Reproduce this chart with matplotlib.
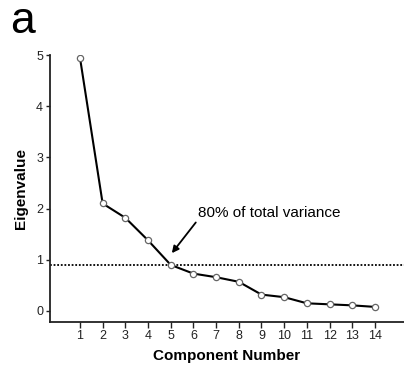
import matplotlib
matplotlib.use("Agg")
import matplotlib.pyplot as plt

plt.rcParams['font.family'] = ['Liberation Sans', 'DejaVu Sans']

components = list(range(1, 15))
eigenvalues = [4.95, 2.1, 1.82, 1.38, 0.9, 0.73, 0.66, 0.57, 0.32, 0.27, 0.15, 0.13, 0.11, 0.08]
cutoff = 0.9
note = "80% of total variance"

fig = plt.figure(figsize=(4.04, 3.72), dpi=100)
ax = fig.add_axes([50 / 404, 50 / 372, 354 / 404, 267 / 372])

ax.plot(components, eigenvalues, color='black', lw=1.5, zorder=2)
ax.plot(components, eigenvalues, 'o', ms=4.5, mfc='white', mec='#666666', mew=0.9, zorder=3)
ax.axhline(cutoff, color='black', lw=1.3, ls=(0, (1, 1)), zorder=1)

ax.annotate(note, xy=(5.05, 1.13), xytext=(6.2, 1.92), fontsize=11, va='center', ha='left',
            arrowprops=dict(arrowstyle='-|>', color='black', lw=1.3, mutation_scale=10,
                            shrinkA=0, shrinkB=0, relpos=(0, 0)))

ax.set_xlim(-0.32, 15.28)
ax.set_ylim(-0.215, 5.0)
ax.set_xticks(components)
ax.set_yticks([0, 1, 2, 3, 4, 5])
ax.tick_params(axis='both', labelsize=9, colors='#222222', length=3, width=1, pad=2)
ax.tick_params(axis='x', length=4)

for side in ['top', 'right']:
    ax.spines[side].set_visible(False)
for side in ['left', 'bottom']:
    ax.spines[side].set_linewidth(1.3)
    ax.spines[side].set_color('#222222')

ax.set_xlabel("Component Number", fontsize=11, fontweight='bold', labelpad=5)
ax.set_ylabel("Eigenvalue", fontsize=11, fontweight='bold', labelpad=6)

fig.text(10 / 404, 1 - 33 / 372, "a", fontsize=32, ha='left', va='baseline')

fig.savefig("out.png", dpi=100)
